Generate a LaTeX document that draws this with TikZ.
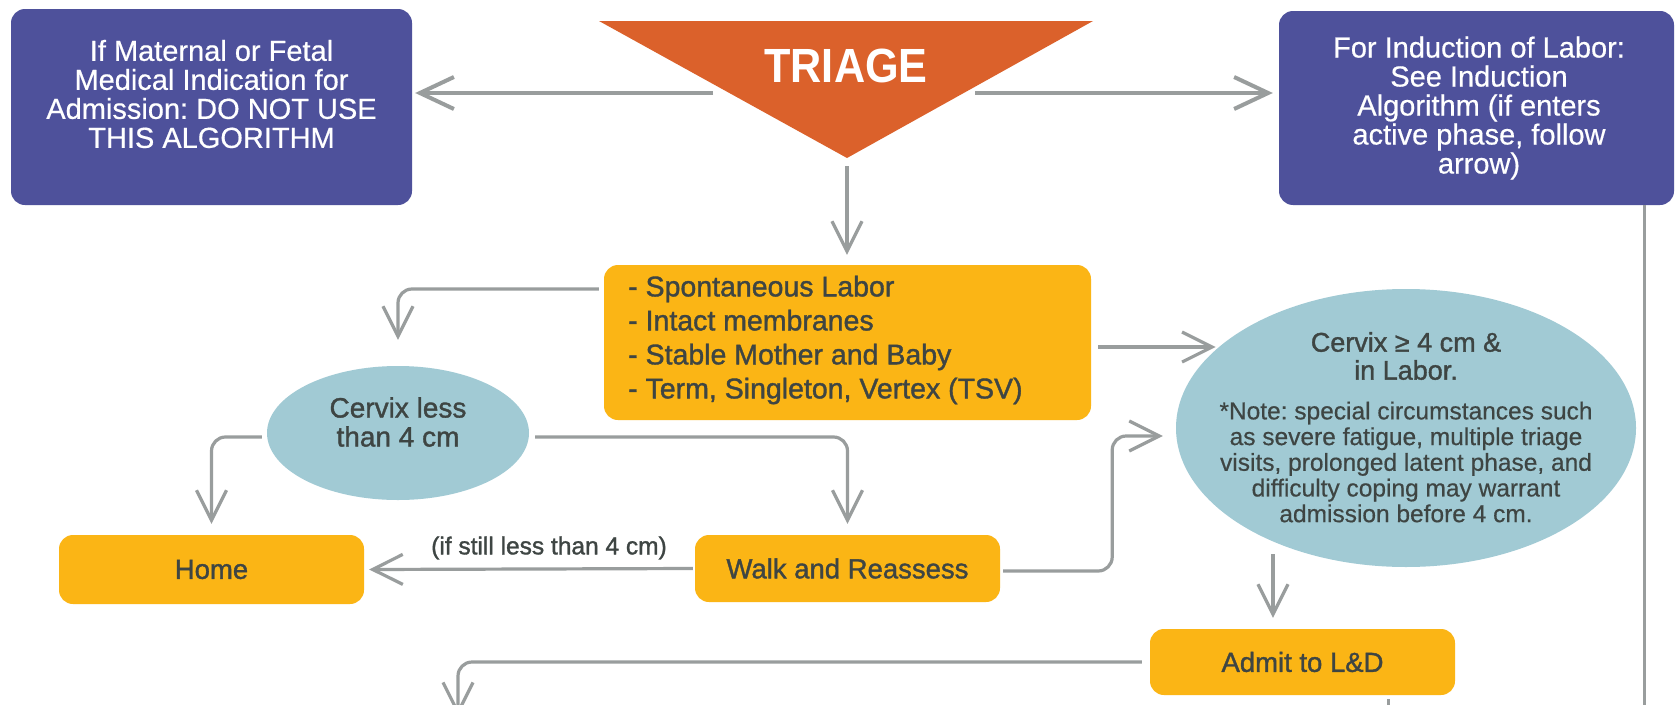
\documentclass[tikz,border=0pt]{standalone}
\usepackage{fontspec}
\setmainfont{Liberation Sans}
\newfontfamily\medf[FakeBold=1.3]{Liberation Sans}
\newfontfamily\lightf[FakeBold=0.5]{Liberation Sans}
\newfontfamily\trif[FakeStretch=0.9]{Liberation Sans}
\usetikzlibrary{arrows.meta,shapes.geometric}
\definecolor{purp}{HTML}{4E519B}
\definecolor{ylw}{HTML}{FBB515}
\definecolor{lblue}{HTML}{A1CAD4}
\definecolor{orng}{HTML}{DB612B}
\definecolor{lgray}{HTML}{999D9D}
\definecolor{dtext}{HTML}{3E4543}
\frenchspacing
\begin{document}
\begin{tikzpicture}[x=1pt,y=-1pt,
  conn/.style={draw=lgray,line width=3.2pt,rounded corners=14pt,-{Straight Barb[length=30pt,width=30pt]}},
  bigconn/.style={conn,line width=4pt,-{Straight Barb[length=34pt,width=32pt]}},
  plainline/.style={draw=lgray,line width=3pt},
  pbox/.style={fill=purp,rounded corners=14pt,inner sep=0pt},
  ybox/.style={fill=ylw,rounded corners=14pt,inner sep=0pt,text=dtext,font=\medf\fontsize{27.5}{30}\selectfont},
  bell/.style={ellipse,fill=lblue,inner sep=0pt},
  ptext/.style={text=white,align=center,inner sep=0pt,font=\lightf\fontsize{29}{29}\selectfont},
  etext/.style={text=dtext,align=center,inner sep=0pt,font=\medf\fontsize{28}{29}\selectfont},
  notetext/.style={text=dtext,align=center,inner sep=0pt,font=\lightf\fontsize{24.5}{25.7}\selectfont}]
\useasboundingbox (0,0) rectangle (1677,704);
\fill[white] (0,0) rectangle (1677,704);
\clip (0,0) rectangle (1677,704);

% top row
\node[pbox,minimum width=401,minimum height=196] (leftbox) at (211.5,107) {};
\node[ptext] (lefttxt) at (211.5,94) {If Maternal or Fetal\\Medical Indication for\\Admission: DO NOT USE\\THIS ALGORITHM};
\node[pbox,minimum width=395,minimum height=194] (rightbox) at (1476.5,108) {};
\node[ptext] (righttxt) at (1479,108) {For Induction of Labor:\\See Induction\\Algorithm (if enters\\active phase, follow\\arrow)};
\fill[orng] (599,21) -- (1093,21) -- (847,158) -- cycle;
\node[text=white,inner sep=0pt,font=\trif\bfseries\fontsize{48}{50}\selectfont] (triage) at (846,66) {TRIAGE};
\coordinate (triL) at (713,93);
\coordinate (triR) at (975,93);
\coordinate (triB) at (847,166);

% middle
\node[ybox,minimum width=487,minimum height=155] (crit) at (847.5,342.5) {};
\node[anchor=west,align=left,inner sep=0pt,text=dtext,font=\medf\fontsize{28.5}{34}\selectfont] (crittxt) at (628,340) {- Spontaneous Labor\\- Intact membranes\\- Stable Mother and Baby\\- Term, Singleton, Vertex (TSV)};

\node[bell,minimum width=262,minimum height=134] (small) at (398,433) {};
\node[etext] (smalltxt) at (398,422) {Cervix less\\than 4 cm};

\node[bell,minimum width=460,minimum height=278] (big) at (1406,428) {};
\node[etext,font=\medf\fontsize{27}{28}\selectfont] (bighead) at (1406,356) {Cervix ≥ 4 cm \&\\in Labor.};
\node[notetext] (bignote) at (1406,462) {*Note: special circumstances such\\as severe fatigue, multiple triage\\visits, prolonged latent phase, and\\difficulty coping may warrant\\admission before 4 cm.};

% lower boxes
\node[ybox,minimum width=305,minimum height=69] (home) at (211.5,569.5) {Home};
\node[ybox,minimum width=305,minimum height=67] (walk) at (847.5,568.5) {Walk and Reassess};
\node[ybox,minimum width=305,minimum height=66] (admit) at (1302.5,662) {Admit to L\&D};
\node[text=dtext,inner sep=0pt,font=\medf\fontsize{24.5}{26}\selectfont] (lbl) at (549,548) {(if still less than 4 cm)};

% connectors
\draw[bigconn] (triL) -- ([xshift=3pt]triL -| leftbox.east);
\draw[bigconn] (triR) -- ([xshift=-6pt]triR -| rightbox.west);
\draw[conn,shorten >=10pt] (triB) -- (triB |- crit.north);

\draw[conn] ([xshift=-5pt,yshift=53.5pt]crit.west) -| ([yshift=26pt]small.north);
\draw[conn] ([xshift=-5pt,yshift=-4pt]small.west) -| ([yshift=11pt]home.north);
\draw[conn] ([xshift=6pt,yshift=-4pt]small.east) -| ([yshift=11pt]walk.north);
\draw[conn] ([xshift=-2pt]walk.west) -- ([xshift=5pt]home.east);

\coordinate (c1) at ([xshift=7pt,yshift=-4.5pt]crit.east);
\draw[conn,shorten >=5pt] (c1) -- (c1 -| big.156.6);
\draw[conn] ([xshift=3pt,yshift=-2.5pt]walk.east) -- ++(109,0) |- ([xshift=-13pt,yshift=-8pt]big.west);

\coordinate (bd) at (1273,554);
\draw[conn,shorten >=11pt] (bd) -- (bd |- admit.north);

\coordinate (out1) at (458,716);
\draw[conn] ([xshift=-8pt]admit.west) -| (out1);
\coordinate (out2) at (1388,716);
\draw[plainline] (out2 |- admit.south) ++(0,4) -- (out2);
\coordinate (out3) at (1644,712);
\draw[plainline] (rightbox.south -| out3) -- (out3);
\end{tikzpicture}
\end{document}
